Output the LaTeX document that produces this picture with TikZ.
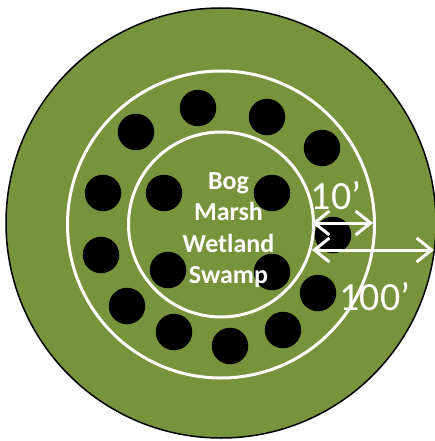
\documentclass[tikz,border=0pt]{standalone}
\usepackage{fontspec}
\setmainfont{Carlito}
\usetikzlibrary{arrows.meta}
\definecolor{olivegreen}{HTML}{77933C}
\begin{document}
\begin{tikzpicture}[x=1pt,y=-1pt,
  ring/.style={draw=white,line width=3pt},
  dot/.style={circle,fill=black,minimum size=36.5pt,inner sep=0pt},
  dim/.style={draw=white,line width=3pt,{Straight Barb[length=15pt,width=24pt]}-{Straight Barb[length=15pt,width=24pt]}},
  lbl/.style={text=white,font=\fontsize{26}{31.5}\selectfont\bfseries,align=center,inner sep=0pt},
  dimlbl/.style={text=white,font=\fontsize{40}{40}\selectfont,inner sep=0pt}]
\useasboundingbox (0,0) rectangle (435,441);
\coordinate (c) at (221,223);
\fill[olivegreen,draw=black,line width=1.5pt] (c) circle (215);
\draw[ring] (221,224.5) circle (153.5);
\draw[ring] (221,224.5) circle (92.5);
\foreach \i/\x/\y in {1/198/108,2/267/117,3/322/148,4/136/132,5/103/193,6/164/193,7/272/193,8/333/235,9/101/255,10/168/270,11/272/272,12/318/293,13/127/306,14/174/332,15/230/346,16/283/330}
  \node[dot] (d\i) at (\x,\y) {};
\node[lbl] (names) at (228.5,230) {Bog\\Marsh\\Wetland\\Swamp};
\node[dimlbl] (ten) at (336,196) {10’};
\node[dimlbl] (hundred) at (375,297) {100’};
\coordinate (a1) at (312,223);
\coordinate (a2) at (373,223);
\coordinate (b1) at (312,250);
\coordinate (b2) at (434,250);
\draw[dim] (a1) -- (a2);
\draw[dim] (b1) -- (b2);
\end{tikzpicture}
\end{document}
